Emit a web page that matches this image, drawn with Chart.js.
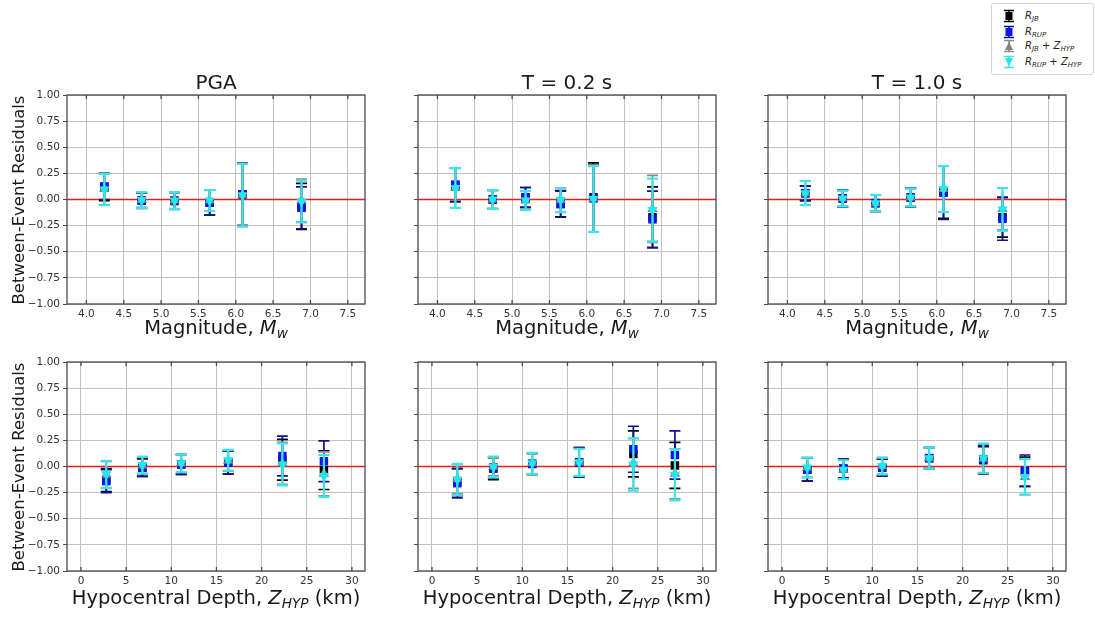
<!DOCTYPE html>
<html><head><meta charset="utf-8">
<script src="https://cdn.jsdelivr.net/npm/chart.js@4.4.1/dist/chart.umd.min.js"></script>
<style>
html,body{margin:0;padding:0;background:#fff;width:1095px;height:618px;overflow:hidden;font-family:"DejaVu Sans",sans-serif;}
canvas{position:absolute;}
.t{position:absolute;white-space:nowrap;text-align:center;color:#1a1a1a;line-height:1;z-index:5;}
.sub{font-size:0.7em;position:relative;top:0.28em;line-height:0;}
#legend{position:absolute;left:991px;top:3px;width:101px;height:70px;border:1px solid #d4d4d4;border-radius:3px;background:#fff;z-index:6;}
#legend .row{position:absolute;left:0;width:101px;height:14px;}
#legend svg{position:absolute;left:10px;top:0;}
#legend .lab{position:absolute;left:33px;top:0;font-size:10px;line-height:14px;font-style:italic;color:#222;white-space:nowrap;}
#legend .lab .up{font-style:normal;}
</style></head><body>
<div class="t" style="left:116px;width:200px;top:72px;font-size:20px;">PGA</div>
<div class="t" style="left:467px;width:200px;top:72px;font-size:20px;">T = 0.2 s</div>
<div class="t" style="left:817px;width:200px;top:72px;font-size:20px;">T = 1.0 s</div>

<div class="t" style="left:66px;width:300px;top:318px;font-size:19.5px;">Magnitude, <i>M</i><span class="sub"><i>w</i></span></div>
<div class="t" style="left:417px;width:300px;top:318px;font-size:19.5px;">Magnitude, <i>M</i><span class="sub"><i>w</i></span></div>
<div class="t" style="left:767px;width:300px;top:318px;font-size:19.5px;">Magnitude, <i>M</i><span class="sub"><i>w</i></span></div>

<div class="t" style="left:41px;width:350px;top:588px;font-size:19.5px;">Hypocentral Depth, <i>Z</i><span class="sub"><i>HYP</i></span> (km)</div>
<div class="t" style="left:392px;width:350px;top:588px;font-size:19.5px;">Hypocentral Depth, <i>Z</i><span class="sub"><i>HYP</i></span> (km)</div>
<div class="t" style="left:742px;width:350px;top:588px;font-size:19.5px;">Hypocentral Depth, <i>Z</i><span class="sub"><i>HYP</i></span> (km)</div>

<div class="t" style="left:19px;top:199.5px;width:260px;font-size:16.5px;transform:translate(-50%,-50%) rotate(-90deg);">Between-Event Residuals</div>
<div class="t" style="left:19px;top:466.5px;width:260px;font-size:16.5px;transform:translate(-50%,-50%) rotate(-90deg);">Between-Event Residuals</div>

<div id="legend">
  <div class="row" style="top:5px;">
    <svg width="14" height="14" viewBox="0 0 14 14"><path d="M2 1.5H12M2 12.5H12M7 1.5V12.5" stroke="#000" stroke-width="1.6"/><rect x="3.5" y="3" width="7" height="8" fill="#000"/></svg>
    <div class="lab">R<span class="sub">JB</span></div>
  </div>
  <div class="row" style="top:21px;">
    <svg width="14" height="14" viewBox="0 0 14 14"><path d="M2 1.5H12M2 12.5H12M7 1.5V12.5" stroke="#10108a" stroke-width="1.6"/><rect x="3.5" y="3" width="7" height="8" fill="#0a14f0"/></svg>
    <div class="lab">R<span class="sub">RUP</span></div>
  </div>
  <div class="row" style="top:35px;">
    <svg width="14" height="14" viewBox="0 0 14 14"><path d="M2 1.5H12M2 12.5H12M7 1.5V12.5" stroke="#8a8a8a" stroke-width="1.6"/><path d="M7 3L11 11H3Z" fill="#808080"/></svg>
    <div class="lab">R<span class="sub">JB</span><span class="up"> + </span>Z<span class="sub">HYP</span></div>
  </div>
  <div class="row" style="top:51px;">
    <svg width="14" height="14" viewBox="0 0 14 14"><path d="M2 1.5H12M2 12.5H12M7 1.5V12.5" stroke="#3ee4ea" stroke-width="1.6"/><path d="M7 11L11 3H3Z" fill="#1ee8f0"/></svg>
    <div class="lab">R<span class="sub">RUP</span><span class="up"> + </span>Z<span class="sub">HYP</span></div>
  </div>
</div>

<script>
// ---------- axes ----------
const magnitudeX = [4.24, 4.74, 5.18, 5.65, 6.09, 6.88];
const depthX = [2.8, 6.8, 11.1, 16.3, 22.3, 26.9];
const magnitudeTicks = [4.0, 4.5, 5.0, 5.5, 6.0, 6.5, 7.0, 7.5];
const depthTicks = [0, 5, 10, 15, 20, 25, 30];
const residualTicks = [-1, -0.75, -0.5, -0.25, 0, 0.25, 0.5, 0.75, 1];
const magnitudeRange = [3.74, 7.73];
const depthRange = [-1.55, 31.45];
const residualRange = [-1, 1];
const seriesLabels = ['R_JB', 'R_RUP', 'R_JB + Z_HYP', 'R_RUP + Z_HYP'];

// ---------- PGA vs magnitude ----------
const pgaMag_RJB = [0.12, -0.01, -0.01, -0.03, 0.05, -0.065];
const pgaMag_RJB_err = [0.13, 0.07, 0.08, 0.12, 0.30, 0.22];
const pgaMag_RRUP = [0.125, -0.01, -0.015, -0.03, 0.05, -0.08];
const pgaMag_RRUP_err = [0.125, 0.075, 0.08, 0.12, 0.30, 0.20];
const pgaMag_RJBZ = [0.10, -0.005, -0.01, -0.01, 0.045, -0.01];
const pgaMag_RJBZ_err = [0.15, 0.07, 0.08, 0.10, 0.30, 0.205];
const pgaMag_RRUPZ = [0.095, -0.005, -0.01, -0.01, 0.04, -0.02];
const pgaMag_RRUPZ_err = [0.15, 0.075, 0.08, 0.10, 0.30, 0.20];

// ---------- T = 0.2 s vs magnitude ----------
const t02Mag_RJB = [0.14, 0.0, 0.02, -0.04, 0.02, -0.17];
const t02Mag_RJB_err = [0.16, 0.09, 0.095, 0.125, 0.33, 0.29];
const t02Mag_RRUP = [0.14, 0.0, 0.02, -0.045, 0.01, -0.19];
const t02Mag_RRUP_err = [0.16, 0.09, 0.095, 0.125, 0.32, 0.27];
const t02Mag_RJBZ = [0.11, 0.0, -0.01, -0.005, 0.01, -0.09];
const t02Mag_RJBZ_err = [0.19, 0.085, 0.09, 0.115, 0.32, 0.32];
const t02Mag_RRUPZ = [0.11, 0.0, -0.01, -0.005, 0.005, -0.10];
const t02Mag_RRUPZ_err = [0.19, 0.09, 0.09, 0.115, 0.315, 0.30];

// ---------- T = 1.0 s vs magnitude ----------
const t10Mag_RJB = [0.06, 0.01, -0.035, 0.02, 0.07, -0.17];
const t10Mag_RJB_err = [0.07, 0.08, 0.08, 0.09, 0.25, 0.19];
const t10Mag_RRUP = [0.06, 0.01, -0.035, 0.02, 0.065, -0.185];
const t10Mag_RRUP_err = [0.07, 0.08, 0.08, 0.09, 0.255, 0.205];
const t10Mag_RJBZ = [0.06, 0.01, -0.035, 0.02, 0.10, -0.09];
const t10Mag_RJBZ_err = [0.115, 0.075, 0.08, 0.085, 0.22, 0.20];
const t10Mag_RRUPZ = [0.06, 0.01, -0.035, 0.02, 0.10, -0.095];
const t10Mag_RRUPZ_err = [0.115, 0.075, 0.08, 0.085, 0.22, 0.205];

// ---------- PGA vs depth ----------
const pgaDep_RJB = [-0.13, -0.01, 0.02, 0.04, 0.065, -0.035];
const pgaDep_RJB_err = [0.11, 0.085, 0.095, 0.11, 0.195, 0.185];
const pgaDep_RRUP = [-0.14, -0.01, 0.02, 0.04, 0.10, 0.05];
const pgaDep_RRUP_err = [0.11, 0.085, 0.095, 0.11, 0.19, 0.195];
const pgaDep_RJBZ = [-0.08, 0.01, 0.03, 0.055, 0.03, -0.07];
const pgaDep_RJBZ_err = [0.13, 0.08, 0.085, 0.10, 0.20, 0.21];
const pgaDep_RRUPZ = [-0.075, 0.015, 0.03, 0.06, 0.02, -0.09];
const pgaDep_RRUPZ_err = [0.13, 0.08, 0.085, 0.10, 0.20, 0.20];

// ---------- T = 0.2 s vs depth ----------
const t02Dep_RJB = [-0.15, -0.02, 0.025, 0.04, 0.12, 0.01];
const t02Dep_RJB_err = [0.13, 0.105, 0.10, 0.14, 0.22, 0.22];
const t02Dep_RRUP = [-0.16, -0.01, 0.025, 0.04, 0.165, 0.11];
const t02Dep_RRUP_err = [0.14, 0.10, 0.10, 0.14, 0.22, 0.23];
const t02Dep_RJBZ = [-0.12, 0.0, 0.03, 0.04, 0.03, -0.07];
const t02Dep_RJBZ_err = [0.14, 0.09, 0.10, 0.13, 0.24, 0.24];
const t02Dep_RRUPZ = [-0.125, -0.005, 0.03, 0.04, 0.02, -0.08];
const t02Dep_RRUPZ_err = [0.15, 0.10, 0.10, 0.13, 0.25, 0.245];

// ---------- T = 1.0 s vs depth ----------
const t10Dep_RJB = [-0.03, -0.02, -0.01, 0.08, 0.06, -0.05];
const t10Dep_RJB_err = [0.11, 0.09, 0.08, 0.10, 0.13, 0.14];
const t10Dep_RRUP = [-0.03, -0.02, -0.01, 0.08, 0.07, -0.04];
const t10Dep_RRUP_err = [0.11, 0.09, 0.08, 0.10, 0.13, 0.15];
const t10Dep_RJBZ = [-0.01, -0.03, 0.005, 0.08, 0.075, -0.10];
const t10Dep_RJBZ_err = [0.095, 0.09, 0.08, 0.10, 0.14, 0.17];
const t10Dep_RRUPZ = [-0.01, -0.03, 0.005, 0.08, 0.08, -0.10];
const t10Dep_RRUPZ_err = [0.095, 0.09, 0.08, 0.10, 0.14, 0.17];

// ---------- styles ----------
const seriesStyle = [
  {fill:'#000000', err:'#000000', shape:'rect', rot:0, r:6, order:4, lw:1.7},
  {fill:'#0a14f0', err:'#12128c', shape:'rect', rot:0, r:6, order:3, lw:1.7},
  {fill:'#808080', err:'#8a8a8a', shape:'triangle', rot:0, r:6, order:2, lw:1.7},
  {fill:'#1ee8f0', err:'#3ee4ea', shape:'triangle', rot:180, r:6, order:1, lw:2.2}
];
const FONT = '"DejaVu Sans", sans-serif';
const colLeft = [67, 418, 768], rowTop = [95, 362];
const plotW = 298, plotH = 209, PADL = 55, PADT = 6, PADR = 6, PADB = 26;

const errorBarPlugin = {
  id: 'errbars',
  beforeDatasetDraw(chart, args) {
    const ds = chart.data.datasets[args.index];
    if (!ds.errors) return;
    const xs = chart.scales.x, ys = chart.scales.y, ctx = chart.ctx;
    ctx.save();
    ctx.strokeStyle = ds.errColor; ctx.lineWidth = ds.errWidth; ctx.lineCap = 'butt';
    ds.data.forEach((p, i) => {
      const px = xs.getPixelForValue(p.x);
      const y1 = ys.getPixelForValue(p.y + ds.errors[i]);
      const y2 = ys.getPixelForValue(p.y - ds.errors[i]);
      ctx.beginPath();
      ctx.moveTo(px, y1); ctx.lineTo(px, y2);
      ctx.moveTo(px - 5.5, y1); ctx.lineTo(px + 5.5, y1);
      ctx.moveTo(px - 5.5, y2); ctx.lineTo(px + 5.5, y2);
      ctx.stroke();
    });
    ctx.restore();
  }
};
const framePlugin = {
  id: 'frame',
  afterDraw(chart) {
    const a = chart.chartArea, ctx = chart.ctx, xs = chart.scales.x;
    ctx.save();
    ctx.strokeStyle = '#4a4a4a'; ctx.lineWidth = 1.3;
    ctx.beginPath();
    xs.ticks.forEach(t => {
      const px = xs.getPixelForValue(t.value);
      ctx.moveTo(px, a.bottom); ctx.lineTo(px, a.bottom - 4);
      ctx.moveTo(px, a.top); ctx.lineTo(px, a.top + 4);
    });
    ctx.stroke();
    ctx.strokeRect(a.left, a.top, a.right - a.left, a.bottom - a.top);
    ctx.restore();
  }
};

function makePanel(row, col, xs, xRange, xTicks, xFmt, series) {
  const c = document.createElement('canvas');
  const W = plotW + PADL + PADR, H = plotH + PADT + PADB;
  c.width = W; c.height = H;
  c.style.left = (colLeft[col] - PADL) + 'px';
  c.style.top = (rowTop[row] - PADT) + 'px';
  document.body.appendChild(c);
  const datasets = series.map((s, k) => {
    const st = seriesStyle[k];
    return {
      label: seriesLabels[k],
      data: xs.map((x, i) => ({x: x, y: s[0][i]})),
      errors: s[1], errColor: st.err, errWidth: st.lw,
      pointStyle: st.shape, pointRotation: st.rot, pointRadius: st.r,
      backgroundColor: st.fill, borderColor: st.fill, borderWidth: 0,
      order: st.order
    };
  });
  datasets.push({
    type: 'line', label: 'zero', showLine: true,
    data: [{x: xRange[0], y: 0}, {x: xRange[1], y: 0}],
    borderColor: '#e3201b', borderWidth: 1.5, pointRadius: 0, order: 10
  });
  new Chart(c, {
    type: 'scatter',
    data: {datasets},
    options: {
      responsive: false, animation: false, events: [],
      layout: {autoPadding: false, padding: {left: 0, top: PADT, right: PADR, bottom: 0}},
      plugins: {legend: {display: false}, tooltip: {enabled: false}},
      scales: {
        x: {
          type: 'linear', min: xRange[0], max: xRange[1],
          afterBuildTicks: sc => { sc.ticks = xTicks.map(v => ({value: v})); },
          afterFit: sc => { sc.height = PADB; sc.paddingLeft = 0; sc.paddingRight = 0; },
          ticks: {callback: xFmt, font: {family: FONT, size: 10.5}, color: '#333', padding: 4, maxRotation: 0, autoSkip: false},
          grid: {color: '#c2c2c2', lineWidth: 1, drawTicks: false},
          border: {display: false}
        },
        y: {
          type: 'linear', min: residualRange[0], max: residualRange[1],
          afterBuildTicks: sc => { sc.ticks = residualTicks.map(v => ({value: v})); },
          afterFit: sc => { sc.width = PADL; sc.paddingTop = 0; sc.paddingBottom = 0; },
          ticks: {display: col === 0, callback: v => v.toFixed(2).replace('-', '\u2212'),
                  font: {family: FONT, size: 10.5}, color: '#333', padding: 3},
          grid: {color: '#c2c2c2', lineWidth: 1, drawTicks: true, tickLength: 4, tickColor: '#4a4a4a'},
          border: {display: false}
        }
      }
    },
    plugins: [errorBarPlugin, framePlugin]
  });
}

const magFmt = v => v.toFixed(1);
const depFmt = v => String(v);

makePanel(0, 0, magnitudeX, magnitudeRange, magnitudeTicks, magFmt,
  [[pgaMag_RJB, pgaMag_RJB_err], [pgaMag_RRUP, pgaMag_RRUP_err], [pgaMag_RJBZ, pgaMag_RJBZ_err], [pgaMag_RRUPZ, pgaMag_RRUPZ_err]]);
makePanel(0, 1, magnitudeX, magnitudeRange, magnitudeTicks, magFmt,
  [[t02Mag_RJB, t02Mag_RJB_err], [t02Mag_RRUP, t02Mag_RRUP_err], [t02Mag_RJBZ, t02Mag_RJBZ_err], [t02Mag_RRUPZ, t02Mag_RRUPZ_err]]);
makePanel(0, 2, magnitudeX, magnitudeRange, magnitudeTicks, magFmt,
  [[t10Mag_RJB, t10Mag_RJB_err], [t10Mag_RRUP, t10Mag_RRUP_err], [t10Mag_RJBZ, t10Mag_RJBZ_err], [t10Mag_RRUPZ, t10Mag_RRUPZ_err]]);
makePanel(1, 0, depthX, depthRange, depthTicks, depFmt,
  [[pgaDep_RJB, pgaDep_RJB_err], [pgaDep_RRUP, pgaDep_RRUP_err], [pgaDep_RJBZ, pgaDep_RJBZ_err], [pgaDep_RRUPZ, pgaDep_RRUPZ_err]]);
makePanel(1, 1, depthX, depthRange, depthTicks, depFmt,
  [[t02Dep_RJB, t02Dep_RJB_err], [t02Dep_RRUP, t02Dep_RRUP_err], [t02Dep_RJBZ, t02Dep_RJBZ_err], [t02Dep_RRUPZ, t02Dep_RRUPZ_err]]);
makePanel(1, 2, depthX, depthRange, depthTicks, depFmt,
  [[t10Dep_RJB, t10Dep_RJB_err], [t10Dep_RRUP, t10Dep_RRUP_err], [t10Dep_RJBZ, t10Dep_RJBZ_err], [t10Dep_RRUPZ, t10Dep_RRUPZ_err]]);
</script>
</body></html>
